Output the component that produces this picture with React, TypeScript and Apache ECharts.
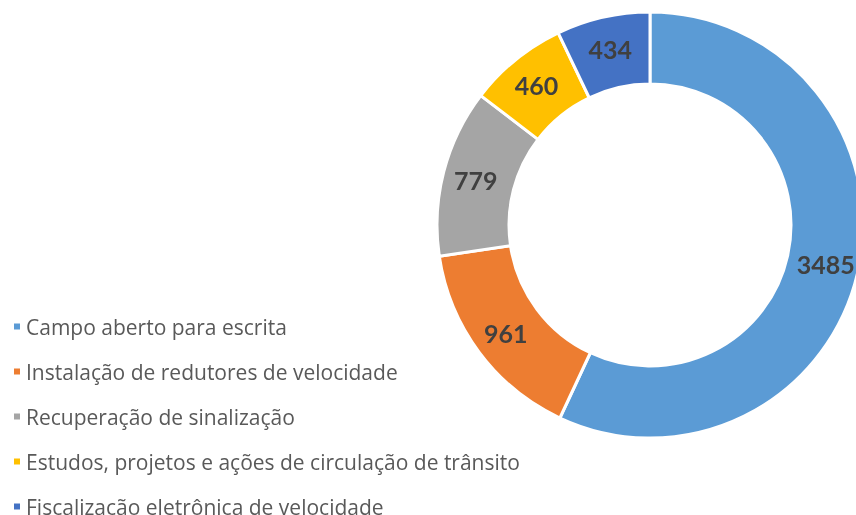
import React, { useEffect, useRef } from "react";
import * as echarts from "echarts";

const categories = [
  "Campo aberto para escrita",
  "Instalação de redutores de velocidade",
  "Recuperação de sinalização",
  "Estudos, projetos e ações de circulação de trânsito",
  "Fiscalização eletrônica de velocidade",
];
const values = [3485, 961, 779, 460, 434];
const colors = ["#5B9BD5", "#ED7D31", "#A5A5A5", "#FFC000", "#4472C4"];

export default function App() {
  const ref = useRef<HTMLDivElement>(null);
  useEffect(() => {
    if (!ref.current) return;
    const chart = echarts.init(ref.current, undefined, { renderer: "svg" });
    chart.setOption({
      animation: false,
      color: colors,
      legend: {
        orient: "vertical",
        left: 7,
        top: 311,
        height: 260,
        icon: "rect",
        itemWidth: 8,
        itemHeight: 8,
        itemGap: 24,
        textStyle: { fontFamily: "Open Sans", fontSize: 21, color: "#595959", lineHeight: 20 },
        data: categories,
      },
      series: [
        {
          type: "pie",
          center: [650, 225],
          radius: [141, 213],
          startAngle: 90,
          clockwise: true,
          itemStyle: { borderColor: "#fff", borderWidth: 3 },
          label: {
            show: true,
            position: "inside",
            formatter: "{c}",
            fontFamily: "Lato",
            fontWeight: "bold",
            fontSize: 25,
            color: "#404040",
          },
          labelLine: { show: false },
          data: categories.map((n, i) => ({ name: n, value: values[i] })),
        },
      ],
    });
    return () => chart.dispose();
  }, []);
  return <div ref={ref} style={{ position: "fixed", left: 0, top: 0, width: 856, height: 515 }} />;
}
